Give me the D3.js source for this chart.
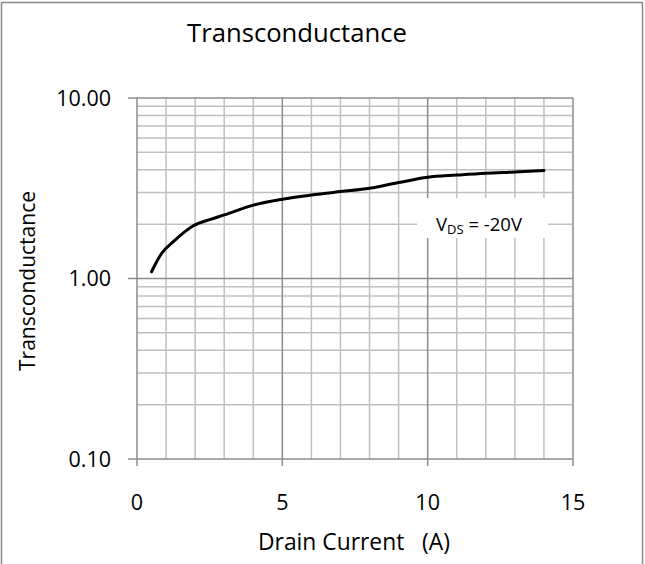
<!DOCTYPE html>
<html>
<head>
<meta charset="utf-8">
<script src="https://cdn.jsdelivr.net/npm/d3@7"></script>
<style>
  html, body { margin: 0; padding: 0; background: #fff; }
  svg { display: block; }
  text { font-family: "Open Sans", sans-serif; fill: #000; white-space: pre; }
</style>
</head>
<body>
<svg id="chart" width="645" height="564"></svg>
<script>
// ---- data ----
const drainCurrent = [0.5, 0.85, 1.25, 1.94, 2.5, 3, 4, 5, 6, 7, 8, 9, 10, 11, 12, 13, 14];
const transconductance = [1.09, 1.38, 1.60, 1.96, 2.12, 2.25, 2.55, 2.75, 2.90, 3.03, 3.16, 3.40, 3.64, 3.74, 3.83, 3.89, 3.96];
const xTicks = [0, 5, 10, 15];
const yTicks = [0.1, 1, 10];
const chartTitle = "Transconductance";
const xTitle = "Drain Current   (A)";
const yTitle = "Transconductance";

// ---- layout ----
const svg = d3.select("#chart");
const pLeft = 137, pRight = 573, pTop = 98, pBottom = 459;

const x = d3.scaleLinear().domain([0, 15]).range([pLeft, pRight]);
const y = d3.scaleLog().domain([0.1, 10]).range([pBottom, pTop]);

// fit a text element's font size to a target width
function fit(sel, w) {
  const n = sel.node();
  const cur = n.getComputedTextLength();
  const fs = parseFloat(sel.attr("font-size"));
  if (cur > 0) sel.attr("font-size", (fs * w / cur).toFixed(2));
  return sel;
}

// outer border
svg.append("rect").attr("x", 1.5).attr("y", 2.5).attr("width", 641).attr("height", 600)
  .attr("fill", "none").attr("stroke", "#8a8a8a").attr("stroke-width", 1.5);

// minor gridlines
const minorY = [];
[0.1, 1].forEach(d => { for (let k = 2; k <= 9; k++) minorY.push(d * k); });
const minorX = d3.range(1, 15).filter(v => v % 5 !== 0);

const grid = svg.append("g");
grid.selectAll(".hy").data(minorY).join("line")
  .attr("x1", pLeft).attr("x2", pRight)
  .attr("y1", d => y(d)).attr("y2", d => y(d))
  .attr("stroke", "#c0c0c0").attr("stroke-width", 1.5);
grid.selectAll(".vx").data(minorX).join("line")
  .attr("y1", pTop).attr("y2", pBottom)
  .attr("x1", d => x(d)).attr("x2", d => x(d))
  .attr("stroke", "#c0c0c0").attr("stroke-width", 1.5);

// major gridlines
grid.selectAll(".my").data(yTicks).join("line")
  .attr("x1", pLeft - 9).attr("x2", pRight)
  .attr("y1", d => y(d)).attr("y2", d => y(d))
  .attr("stroke", "#8c8c8c").attr("stroke-width", 1.5);
grid.selectAll(".mx").data(xTicks).join("line")
  .attr("y1", pTop).attr("y2", pBottom + 7)
  .attr("x1", d => x(d)).attr("x2", d => x(d))
  .attr("stroke", "#8c8c8c").attr("stroke-width", 1.5);

// annotation box (white background, covers grid)
svg.append("rect").attr("x", 417).attr("y", 198).attr("width", 131).attr("height", 40).attr("fill", "#fff");

// curve
const line = d3.line().x((d, i) => x(drainCurrent[i])).y(d => y(d)).curve(d3.curveMonotoneX);
svg.append("path").datum(transconductance)
  .attr("d", line).attr("fill", "none").attr("stroke", "#000").attr("stroke-width", 3)
  .attr("stroke-linecap", "round").attr("stroke-linejoin", "round");

// annotation text
const ann = svg.append("text").attr("x", 479).attr("y", 230.5).attr("text-anchor", "middle").attr("font-size", 14);
ann.append("tspan").text("V");
ann.append("tspan").attr("font-size", "0.7em").attr("dy", 3).text("DS");
ann.append("tspan").attr("dy", -3).text(" = -20V");
fit(ann, 86);

// tick labels
const tickFs = 21.5;
svg.selectAll(".yl").data(yTicks).join("text")
  .attr("x", 111).attr("y", d => y(d) + 7.5)
  .attr("text-anchor", "end").attr("font-size", tickFs)
  .text(d => d3.format(".2f")(d));
svg.selectAll(".xl").data(xTicks).join("text")
  .attr("x", d => x(d)).attr("y", 510)
  .attr("text-anchor", "middle").attr("font-size", tickFs)
  .text(d => d);

// titles
fit(svg.append("text").attr("x", 297).attr("y", 42).attr("text-anchor", "middle").attr("font-size", 22).text(chartTitle), 220);
fit(svg.append("text").attr("x", 354).attr("y", 550).attr("text-anchor", "middle").attr("font-size", 18).text(xTitle), 192);
fit(svg.append("text").attr("transform", "translate(35,281) rotate(-90)").attr("text-anchor", "middle").attr("font-size", 18).text(yTitle), 180);
</script>
</body>
</html>
